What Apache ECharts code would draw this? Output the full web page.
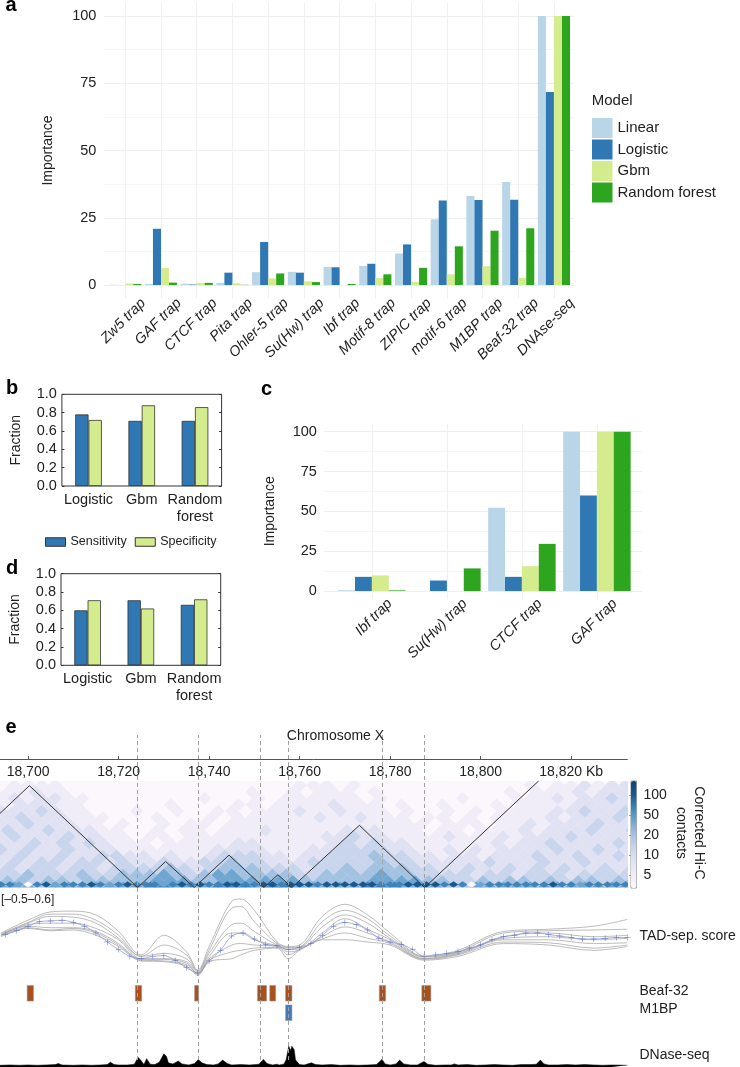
<!DOCTYPE html>
<html><head><meta charset="utf-8">
<style>html,body{margin:0;padding:0;background:#fff}#c{width:740px;height:1067px}</style>
<script src="https://cdn.jsdelivr.net/npm/echarts@6/dist/echarts.min.js"></script>
</head><body><div id="c"></div>
<script>
const SANS='"Liberation Sans"';
// panel a
const catsA=['Zw5 trap','GAF trap','CTCF trap','Pita trap','Ohler-5 trap','Su(Hw) trap','Ibf trap','Motif-8 trap','ZIPIC trap','motif-6 trap','M1BP trap','Beaf-32 trap','DNAse-seq'];
const aLinear=[0.1,0.4,0.5,0.8,4.8,4.9,6.7,7.1,11.7,24.4,33.1,38.3,100];
const aLogistic=[0,20.9,0.2,4.6,16,4.6,6.6,7.9,15.1,31.4,31.6,31.7,71.7];
const aGbm=[0.6,6.3,0.8,0.7,2.5,1.4,0,2.6,1.2,4.0,7.0,2.7,100];
const aForest=[0.4,0.9,0.8,0.1,4.3,1.1,0.4,4.0,6.4,14.4,20.2,21.1,100];
// panel c
const catsC=['Ibf trap','Su(Hw) trap','CTCF trap','GAF trap'];
const cLinear=[0.5,0,52.3,100];
const cLogistic=[8.9,6.6,8.9,60];
const cGbm=[9.8,0,15.6,100];
const cForest=[0.4,14.2,29.6,100];
// panels b, d
const catsB=['Logistic','Gbm','Random\nforest'];
const bSens=[0.78,0.71,0.71], bSpec=[0.72,0.88,0.86];
const dSens=[0.60,0.71,0.66], dSpec=[0.71,0.62,0.72];
const importanceTicks=[0,12.5,25,37.5,50,62.5,75,87.5,100];
const importanceLabels=[0,25,50,75,100];
// panel e
const kbTicks=[18700,18720,18740,18760,18780,18800,18820];
const boundaries=[18724.2,18737.6,18751.3,18757.5,18778.2,18787.5];
const tadLine=[[18693.8,17.4],[18700.3,23.9],[18724.2,0],[18730.4,6.1],[18736.7,0],[18744.4,7.6],[18752.1,0],[18755.2,3],[18758.3,0],[18773.2,14.6],[18787.6,0],[18812.8,25]];
// contact level of each diamond, bottom row first; columns every 3 kb, odd rows offset by 1.5 kb
const hicRows=[
[5,5,5,4,5,5,5,5,5,5,5,6,6,5,5,5,6,6,6,5,6,6,5,5,5,5,5,6,6,6,5,5,5,4,4,5,5,5,5,5,5,5,5,5,5,5,5],
[4,4,3,4,4,3,4,4,4,4,4,5,5,5,4,4,5,5,5,5,5,5,4,4,4,4,4,5,5,5,5,4,4,3,3,4,3,4,4,3,4,3,4,4,3,4,4],
[3,3,4,3,3,3,4,3,3,4,4,4,5,4,3,4,5,5,4,4,4,4,3,3,4,4,4,4,5,4,4,3,3,3,3,2,3,3,2,3,3,3,2,3,3,3,3],
[3,2,3,3,2,3,3,2,3,3,3,3,4,3,2,3,4,4,4,3,3,3,2,3,3,4,3,4,4,4,3,3,2,2,3,2,2,3,2,3,2,3,2,2,3,2,3],
[2,3,2,3,3,2,3,3,2,3,2,2,3,2,2,3,3,4,3,3,2,2,2,3,3,3,3,3,4,3,3,2,2,2,2,2,3,2,2,2,3,2,2,3,2,2,2],
[2,3,2,2,3,2,2,3,3,2,2,1,2,1,1,2,3,3,3,2,2,1,2,2,3,3,3,4,3,3,2,2,1,2,2,1,2,2,2,3,2,2,3,2,2,3,2],
[3,2,3,2,2,3,2,2,2,1,1,1,1,1,1,1,2,2,2,2,1,1,1,2,2,3,3,3,3,2,2,1,1,2,1,2,1,2,2,2,2,3,2,2,3,2,2],
[2,2,3,2,3,2,3,2,1,1,1,0,1,1,1,1,1,2,2,1,1,1,1,1,2,3,2,3,2,2,1,1,1,1,1,1,2,1,2,2,3,2,2,2,2,3,2],
[2,3,2,2,2,3,2,2,1,1,0,1,1,0,1,1,1,1,1,1,1,1,1,1,2,2,3,2,2,1,1,1,1,2,1,1,1,2,1,2,2,2,3,2,2,2,2],
[3,2,2,3,2,2,2,1,1,0,0,1,0,1,1,0,1,1,1,2,1,1,1,1,1,2,2,2,1,1,1,0,1,1,0,1,1,1,2,1,2,2,2,3,2,2,3],
[2,2,3,2,2,2,1,1,0,1,0,0,1,0,1,1,0,1,1,1,1,1,1,1,1,1,1,1,1,1,1,1,0,1,1,1,0,1,1,2,1,2,2,2,3,2,2],
[2,3,2,2,2,1,1,1,0,0,0,1,0,0,0,1,0,1,1,1,1,1,1,2,1,1,2,1,1,1,0,1,1,0,1,0,1,1,1,1,2,1,2,2,2,3,2],
[2,2,2,3,2,1,1,0,0,0,1,0,0,1,0,0,1,1,0,1,1,1,2,1,1,2,1,1,1,0,1,0,0,1,0,1,0,1,1,1,1,2,2,3,2,2,3],
[1,2,2,2,1,1,0,0,0,0,0,0,1,0,0,0,0,1,1,0,1,1,1,1,2,1,1,1,0,1,0,0,1,0,0,0,1,0,1,1,1,1,2,2,2,2,2],
[1,2,1,2,2,1,1,0,0,0,0,0,0,0,0,1,0,0,0,1,0,1,1,1,1,1,1,0,1,0,0,0,0,0,1,0,0,0,1,1,1,2,1,2,2,3,2],
[1,1,2,1,1,0,0,0,0,0,0,0,0,0,0,0,0,0,1,0,0,1,0,1,1,1,0,1,0,0,0,0,0,0,0,0,0,1,0,1,1,1,2,1,2,2,2],
[0,1,1,1,1,0,0,0,0,0,0,0,0,0,0,0,0,0,0,0,0,0,1,1,1,0,1,0,0,0,0,0,0,0,0,0,0,0,0,1,0,1,1,2,1,2,2]];
// near-diagonal strip, one value every 2 kb from 18694
const hicBase=[6,6,5,0,6,7,5,6,6,6,7,6,5,6,7,6,6,6,5,6,7,6,7,6,6,7,7,6,6,7,7,6,7,7,7,6,7,7,7,7,7,7,6,6,6,7,7,7,7,6,7,6,0,5,6,6,6,6,6,6,6,7,6,6,5,6,6,6,6,6,5];
const legendBarLabels=['5','10','20','50','100'];
const scoreX=[18694,18700,18705,18710,18715,18720,18725,18730,18735,18737.5,18740,18745,18747,18750,18755,18757.5,18760,18765,18770,18775,18780,18787.5,18795,18805,18815,18825,18832.4];
const score1=[.07,.24,.35,.36,.31,.09,-.22,.04,-.18,-.42,-.11,.49,.52,.37,-.05,-.11,-.09,.29,.45,.31,.07,-.24,-.16,.09,.12,.16,.25];
const score2=[.06,.21,.32,.32,.24,.04,-.24,-.09,-.22,-.43,-.16,.40,.42,.22,-.07,-.12,-.11,.22,.37,.26,.03,-.24,-.18,.07,.10,.11,.12];
const score3=[.05,.20,.29,.28,.20,.00,-.24,-.20,-.27,-.44,-.20,.18,.20,.09,-.09,-.13,-.12,.15,.31,.20,.00,-.25,-.19,.02,.07,.02,.04];
const score4=[.04,.18,.20,.20,.13,-.02,-.27,-.27,-.31,-.45,-.24,.07,.07,-.02,-.10,-.15,-.14,.07,.26,.12,-.02,-.27,-.20,.00,.02,-.02,.00];
const score5=[.04,.16,.14,.14,.09,-.07,-.28,-.28,-.33,-.47,-.27,-.09,-.07,-.09,-.11,-.18,-.15,.02,.15,.07,-.05,-.27,-.21,-.02,-.02,-.07,-.06];
const score6=[.03,.14,.11,.13,.07,-.09,-.29,-.30,-.35,-.47,-.29,-.18,-.16,-.13,-.12,-.22,-.15,-.01,.07,.00,-.07,-.28,-.22,-.05,-.06,-.13,-.09];
const score7=[.02,.13,.10,.11,.04,-.11,-.30,-.31,-.37,-.49,-.31,-.27,-.22,-.16,-.13,-.27,-.16,-.02,-.02,-.05,-.09,-.29,-.24,-.07,-.09,-.16,-.11];
const meanX=[18695,18697.5,18700,18702.5,18705,18707.5,18710,18712.5,18715,18717.5,18720,18722.5,18725,18727.5,18730,18732.5,18735,18737.5,18740,18742.5,18745,18747.5,18750,18752.5,18755,18757.5,18760,18762.5,18765,18767.5,18770,18772.5,18775,18777.5,18780,18782.5,18785,18787.5,18790,18792.5,18795,18797.5,18800,18802.5,18805,18807.5,18810,18812.5,18815,18817.5,18820,18822.5,18825,18827.5,18830,18832.4];
const meanY=[.05,.10,.16,.22,.23,.24,.21,.16,.07,-.05,-.15,-.24,-.27,-.24,-.23,-.29,-.39,-.46,-.30,-.16,.03,.07,-.01,-.08,-.10,-.15,-.12,-.07,.04,.16,.21,.18,.11,0,-.05,-.08,-.15,-.24,-.22,-.20,-.18,-.13,-.09,-.02,.02,.04,.07,.07,.05,.03,.01,-.01,-.01,0,.01,.01];
const beaf=[[18699.8,18701.2],[18723.7,18725.1],[18736.8,18737.7],[18750.7,18752.7],[18753.4,18754.7],[18756.9,18758.3],[18777.6,18779.0],[18787.0,18789.0]];
const m1bp=[[18756.9,18758.3]];
const dnase=[[18693.8,5],[18696,6],[18698,5],[18700,6],[18702,5],[18704,6],[18706,7],[18706.7,10],[18707.5,6],[18710,5],[18712,6],[18714,5],[18716,6],[18717.5,7],[18718.2,14],[18719,7],[18720,6],[18722,6],[18723.5,8],[18724.3,28],[18725,18],[18725.6,7],[18726.2,24],[18727,8],[18728,7],[18729,14],[18730,38],[18730.6,30],[18731,12],[18732,9],[18733.2,17],[18734,9],[18735.5,6],[18736.8,10],[18737.6,22],[18738.4,12],[18739.5,7],[18741,6],[18742,9],[18743,20],[18744,10],[18745,6],[18747,7],[18749,6],[18751,8],[18752,22],[18752.8,10],[18754,6],[18755,8],[18755.5,6],[18756.5,8],[18757,20],[18757.6,60],[18758,48],[18758.3,60],[18758.8,50],[18759.1,20],[18760,7],[18761,6],[18762.6,12],[18763.5,7],[18765,6],[18767,7],[18769,5],[18771,6],[18773,5],[18775,6],[18777,7],[18778.2,22],[18778.9,9],[18780,6],[18781.3,9],[18782.1,20],[18783,9],[18784.5,6],[18786,6],[18787.5,16],[18788.3,8],[18790,5],[18792,6],[18793.5,6],[18794.2,9],[18795,6],[18797,7],[18799,5],[18801,6],[18803,7],[18805,6],[18807,5],[18809,7],[18811,7],[18812.3,8],[18813.2,20],[18814,9],[18815,6],[18817,6],[18819,7],[18821,6],[18823,7],[18825,6],[18827,5],[18829,6],[18832.4,5]];

const COL={lin:'#b9d5e8',log:'#2f78b4',gbm:'#d5ec8e',rf:'#2da51e'};
const KB_MIN=18693.8,KB_MAX=18832.4;

const grid=[
 {left:107.4,top:2.5,width:464.4,height:296},            //0 a
 {left:61.9,top:394.3,width:159.7,height:91.7,show:true,borderColor:'#333',borderWidth:1}, //1 b
 {left:61,top:573.7,width:159.7,height:91.6,show:true,borderColor:'#333',borderWidth:1},   //2 d
 {left:334.4,top:423.7,width:300,height:175.3},         //3 c
 {left:0,top:758,width:627.3,height:1},                 //4 e axis
 {left:0,top:781,width:627.3,height:106.5,show:true,borderWidth:0,backgroundColor:'#fcf7fc'}, //5 heat
 {left:631,top:781,width:5.5,height:107,show:true,borderColor:'#999',borderWidth:1},           //6 colourbar
 {left:0,top:893,width:627.3,height:83},                //7 score
 {left:0,top:983.5,width:627.3,height:39},              //8 beds
 {left:0,top:1044.5,width:627.3,height:23.5},           //9 dnase
 {left:0,top:735,width:627.3,height:325},               //10 overlay
 {left:104,top:2.5,width:470,height:296},               //11 a gridlines
 {left:323.7,top:423.7,width:318,height:175.3}          //12 c gridlines
];
const kbAxis=(g,extra)=>Object.assign({type:'value',gridIndex:g,min:KB_MIN,max:KB_MAX,show:false},extra||{});
const catImp=(g,data)=>({type:'category',gridIndex:g,data:data,
  axisLine:{show:false},axisTick:{alignWithLabel:true,length:3,lineStyle:{color:'#eee'}},
  splitLine:{show:true,alignWithLabel:true,lineStyle:{color:'#f0f0f0'}},
  axisLabel:{interval:0,rotate:45,fontStyle:'italic',fontSize:14.5,margin:7,color:'#222',fontFamily:SANS,verticalAlign:'top',padding:[2,-16,0,0]}});
const valImp=(g,gap,margin)=>({type:'value',gridIndex:g,min:-5,max:105,name:'Importance',nameLocation:'middle',nameGap:gap,
  nameTextStyle:{fontSize:14,color:'#222',fontFamily:SANS},
  axisLine:{show:false},axisTick:{show:false},splitLine:{show:false},
  axisLabel:{customValues:importanceLabels,fontSize:14.5,color:'#222',fontFamily:SANS,margin}});
const gridlineY=(g)=>({type:'value',gridIndex:g,min:-5,max:105,axisLine:{show:false},axisTick:{show:false,customValues:importanceTicks},axisLabel:{show:false},
  splitLine:{show:true,lineStyle:{color:['#eeeeee','#f6f6f6','#eeeeee','#f6f6f6','#eeeeee','#f6f6f6','#eeeeee','#f6f6f6','#eeeeee'],width:1}}});
const catFrac=(g)=>({type:'category',gridIndex:g,data:catsB,axisLine:{show:false},axisTick:{show:false},
  axisLabel:{interval:0,fontSize:14.5,lineHeight:17,color:'#222',fontFamily:SANS,margin:5}});
const valFrac=(g)=>({type:'value',gridIndex:g,min:0,max:1,interval:0.2,name:'Fraction',nameLocation:'middle',nameGap:39,
  nameTextStyle:{fontSize:14,color:'#222',fontFamily:SANS},
  axisLine:{show:false},axisTick:{show:true,inside:true,length:2.5,lineStyle:{color:'#333'}},splitLine:{show:false},
  axisLabel:{fontSize:14.5,color:'#222',fontFamily:SANS,margin:5,formatter:v=>v.toFixed(1)}});
const valFracR=(g)=>({type:'value',gridIndex:g,position:'right',min:0,max:1,interval:0.2,
  axisLine:{show:false},axisTick:{show:true,inside:true,length:2.5,lineStyle:{color:'#333'}},splitLine:{show:false},axisLabel:{show:false}});

const xAxis=[
 catImp(0,catsA),
 catFrac(1),
 catFrac(2),
 catImp(3,catsC),
 kbAxis(4,{show:true,position:'top',axisLine:{show:true,lineStyle:{color:'#555',width:1}},
   axisTick:{show:true,length:3,customValues:kbTicks,lineStyle:{color:'#555'}},splitLine:{show:false},
   axisLabel:{show:true,inside:true,customValues:kbTicks,margin:7,fontSize:14,color:'#222',fontFamily:SANS,
     formatter:v=>{const s=String(v).replace(/(\d\d)(\d{3})$/,'$1,$2');return v===18820?s+' Kb':s;}}}),
 kbAxis(5),
 {type:'value',gridIndex:6,min:0,max:1,show:false},
 kbAxis(7),kbAxis(8),kbAxis(9),kbAxis(10),
 {type:'value',gridIndex:11,min:0,max:1,show:false},
 {type:'value',gridIndex:12,min:0,max:1,show:false}
];
const yAxis=[
 valImp(0,52,11),        //0
 valFrac(1),          //1
 valFrac(2),          //2
 valImp(3,57.6,17.5),        //3
 {type:'value',gridIndex:4,min:0,max:1,show:false},  //4
 {type:'value',gridIndex:5,min:0,max:25,show:false}, //5
 {type:'value',gridIndex:6,position:'right',min:-0.65,max:4.7,
   axisLine:{show:false},axisTick:{show:true,length:2,inside:true,customValues:[0,1,2,3,4],lineStyle:{color:'#999'}},splitLine:{show:false},
   axisLabel:{customValues:[0,1,2,3,4],margin:7,fontSize:14,color:'#222',fontFamily:SANS,formatter:v=>legendBarLabels[v]}}, //6
 {type:'value',gridIndex:7,min:-0.5,max:0.6,show:false}, //7
 {type:'category',gridIndex:8,data:['M1BP','Beaf-32'],show:false}, //8
 {type:'value',gridIndex:9,min:0,max:65,show:false}, //9
 {type:'value',gridIndex:10,min:0,max:1,show:false}, //10
 valFracR(1), //11
 valFracR(2), //12
 gridlineY(11), //13
 gridlineY(12)  //14
];

const bars=(name,data,color,xi,yi)=>({type:'bar',name,data,xAxisIndex:xi,yAxisIndex:yi,barGap:0,barCategoryGap:'10%',itemStyle:{color}});
const fracBars=(name,data,color,xi,yi)=>({type:'bar',name,data,xAxisIndex:xi,yAxisIndex:yi,barGap:0,barCategoryGap:'50%',itemStyle:{color,borderColor:'#333',borderWidth:0.8}});

const diamond=(halfX,halfY)=>(params,api)=>{
  const x=api.value(0),y=api.value(1);
  const pts=[[x-halfX,y],[x,y+halfY],[x+halfX,y],[x,y-halfY]].map(p=>api.coord(p));
  const col=api.visual('color');
  return {type:'polygon',shape:{points:pts},style:{fill:col,stroke:col,lineWidth:0.4}};
};
const tileData=[];
hicRows.forEach((row,r)=>row.forEach((v,c)=>tileData.push([18694+3*c+(r%2?1.5:0),r*1.5,v])));
const baseData=hicBase.map((v,i)=>[18694+2*i,0.7,v]);

const bedSeries=(name,ranges,row,fill)=>({type:'custom',name,xAxisIndex:8,yAxisIndex:8,
  data:ranges.map(r=>[r[0],r[1],row]),encode:{x:[0,1],y:2},
  renderItem:(params,api)=>{
    const a=api.coord([api.value(0),api.value(2)]),b=api.coord([api.value(1),api.value(2)]);
    const h=api.size([0,1])[1]*0.8;
    return {type:'rect',shape:{x:a[0],y:a[1]-h/2,width:b[0]-a[0],height:h},style:{fill,stroke:'#999',lineWidth:0.5}};
  }});
const grayLine=(vals,name)=>({type:'line',name,xAxisIndex:7,yAxisIndex:7,data:scoreX.map((x,i)=>[x,vals[i]]),smooth:0.35,showSymbol:false,lineStyle:{color:'#aaaaaa',width:0.8}});

const series=[
 bars('Linear',aLinear,COL.lin,0,0),bars('Logistic',aLogistic,COL.log,0,0),bars('Gbm',aGbm,COL.gbm,0,0),bars('Random forest',aForest,COL.rf,0,0),
 fracBars('Sensitivity',bSens,COL.log,1,1),fracBars('Specificity',bSpec,COL.gbm,1,1),
 fracBars('Sensitivity',dSens,COL.log,2,2),fracBars('Specificity',dSpec,COL.gbm,2,2),
 bars('Linear',cLinear,COL.lin,3,3),bars('Logistic',cLogistic,COL.log,3,3),bars('Gbm',cGbm,COL.gbm,3,3),bars('Random forest',cForest,COL.rf,3,3),
 {type:'custom',id:'hic',xAxisIndex:5,yAxisIndex:5,clip:true,data:tileData,encode:{x:0,y:1},renderItem:diamond(1.5,1.5),z:1},
 {type:'custom',id:'hicBase',xAxisIndex:5,yAxisIndex:5,clip:true,data:baseData,encode:{x:0,y:1},renderItem:diamond(1,0.7),z:2},
 {type:'line',name:'TAD',xAxisIndex:5,yAxisIndex:5,data:tadLine,showSymbol:false,lineStyle:{color:'#333',width:1},z:3},
 grayLine(score1,'s1'),grayLine(score2,'s2'),grayLine(score3,'s3'),grayLine(score4,'s4'),grayLine(score5,'s5'),grayLine(score6,'s6'),grayLine(score7,'s7'),
 {type:'line',name:'Mean',xAxisIndex:7,yAxisIndex:7,data:meanX.map((x,i)=>[x,meanY[i]]),smooth:0.3,symbol:'path://M4.6 0h.8v10h-.8zM0 4.6h10v.8H0z',symbolSize:6,showSymbol:true,itemStyle:{color:'#5a6cc4'},lineStyle:{color:'#8792d6',width:0.7},z:4},
 bedSeries('Beaf-32',beaf,1,'#a5521f'),
 bedSeries('M1BP',m1bp,0,'#3f7bb9'),
 {type:'line',name:'DNase',xAxisIndex:9,yAxisIndex:9,data:dnase,showSymbol:false,lineStyle:{color:'#000',width:0.5},areaStyle:{color:'#000',opacity:1}},
 {type:'line',name:'bounds',xAxisIndex:10,yAxisIndex:10,data:[],z:10,
  markLine:{silent:true,symbol:'none',label:{show:false},animation:false,lineStyle:{color:'#a0a0a0',type:[4,3],width:1},data:boundaries.map(v=>({xAxis:v}))}},
 {type:'line',name:'aGrid',xAxisIndex:11,yAxisIndex:13,data:[],z:0},
 {type:'line',name:'cGrid',xAxisIndex:12,yAxisIndex:14,data:[],z:0}
];

const txt=(text,x,y,o)=>({type:'text',x,y,silent:true,z:20,style:Object.assign({text,fontFamily:SANS,fontSize:14,fill:'#222',verticalAlign:'middle'},o||{})});
const letter=(t,x,y)=>txt(t,x,y,{fontSize:20,fontWeight:'bold',fill:'#000',align:'center'});
const graphic=[
 letter('a',11,5),letter('b',12,388),letter('c',266.5,389),letter('d',12,568),letter('e',11,727),
 txt('Model',591.7,100.5,{fontSize:15}),
 txt('Chromosome X',335.5,736.5,{align:'center'}),
 txt('[–0.5–0.6]',1,899.5,{fontSize:12}),
 txt('TAD-sep. score',639.5,936),
 txt('Beaf-32',639.5,991.5),
 txt('M1BP',639.5,1009.5),
 txt('DNase-seq',639.5,1055),
 {type:'text',x:690,y:833,rotation:-Math.PI/2,silent:true,z:20,style:{text:'Corrected Hi-C\ncontacts',fontFamily:SANS,fontSize:14,lineHeight:18,fill:'#222',align:'center',verticalAlign:'middle'}}
];

const chart=echarts.init(document.getElementById('c'),null,{renderer:'canvas'});
chart.setOption({
 animation:false,
 textStyle:{fontFamily:SANS},
 grid,xAxis,yAxis,series,graphic,
 legend:[
  {left:592,top:118,orient:'vertical',itemWidth:20.5,itemHeight:20,itemGap:1.5,icon:'rect',padding:0,selectedMode:false,
   data:['Linear','Logistic','Gbm','Random forest'],textStyle:{fontSize:15,color:'#222',fontFamily:SANS}},
  {left:45,top:535.5,orient:'horizontal',itemWidth:20,itemHeight:8.5,itemGap:8,icon:'rect',padding:0,selectedMode:false,
   itemStyle:{borderWidth:1,borderColor:'#333'},
   data:['Sensitivity','Specificity'],textStyle:{fontSize:12.5,color:'#222',fontFamily:SANS}}
 ],
 visualMap:{type:'continuous',seriesIndex:[12,13],dimension:2,min:0,max:8,calculable:false,showLabel:false,text:null,
   left:631,top:781,itemWidth:5.5,itemHeight:107,padding:0,z:1,
   inRange:{color:['#fcf7fc','#f0edf8','#e0e2f3','#c8d5ec','#a3c2e1','#6ea6d1','#3c84bb','#17598f','#0d4474']}}
});
</script></body></html>
